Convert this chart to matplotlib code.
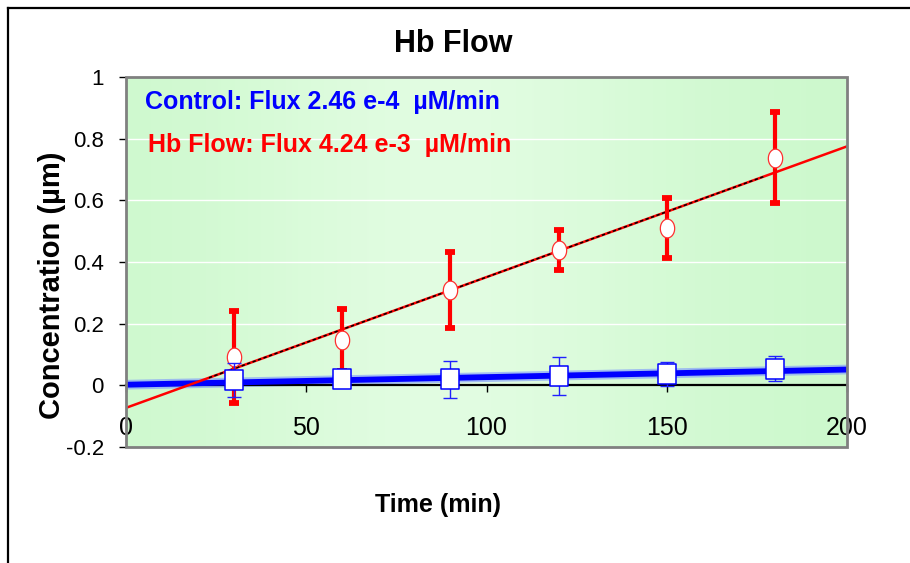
import numpy as np
import matplotlib
matplotlib.use("Agg")
import matplotlib.pyplot as plt
from matplotlib.path import Path
from matplotlib.patches import Rectangle
from matplotlib.lines import Line2D

# ---- data ----
time_min = [30, 60, 90, 120, 150, 180]
hb_conc = [0.092, 0.147, 0.309, 0.439, 0.510, 0.738]
hb_err = [0.150, 0.100, 0.123, 0.065, 0.097, 0.148]
ctrl_conc = [0.017, 0.020, 0.020, 0.030, 0.037, 0.054]
ctrl_err = [0.055, 0.010, 0.060, 0.062, 0.040, 0.040]

hb_slope, hb_intercept = 4.24e-3, -0.073
ctrl_slope, ctrl_intercept = 2.46e-4, 0.002

x_ticks = [0, 50, 100, 150, 200]
y_ticks = [-0.2, 0, 0.2, 0.4, 0.6, 0.8, 1]
y_ticklabels = ["-0.2", "0", "0.2", "0.4", "0.6", "0.8", "1"]

FONT = ["Liberation Sans", "DejaVu Sans"]
W, H = 910, 563


def fx(px):
    return px / W


def fy(py):
    return 1 - py / H


fig = plt.figure(figsize=(W / 100, H / 100), dpi=100)
ax = fig.add_axes([fx(126), fy(447), 721 / W, 370 / H])
ax.set_xlim(0, 200)
ax.set_ylim(-0.2, 1.0)

# green horizontal gradient background
t = np.linspace(0, 1, 400)
light = np.exp(-((t - 0.45) / 0.32) ** 2)
edge = np.array([0.80, 0.975, 0.80])
centre = np.array([0.885, 0.99, 0.885])
grad = edge[None, :] + (centre - edge)[None, :] * light[:, None]
ax.imshow(grad[None, :, :], extent=[0, 200, -0.2, 1.0], aspect="auto",
          zorder=0, interpolation="bilinear")

# white horizontal gridlines
for yv in [0.2, 0.4, 0.6, 0.8]:
    ax.axhline(yv, color="white", lw=1.0, zorder=1)

# grey plot-area frame
ax.add_patch(Rectangle((0, 0), 1, 1, transform=ax.transAxes, fill=False,
                       edgecolor="#808080", lw=2.0, zorder=6, clip_on=False))

for s in ["top", "right", "left"]:
    ax.spines[s].set_visible(False)
ax.spines["bottom"].set_position(("data", 0))
ax.spines["bottom"].set_color("black")
ax.spines["bottom"].set_linewidth(1.6)
ax.spines["bottom"].set_zorder(2)

ax.set_xticks(x_ticks)
ax.set_xticklabels([str(v) for v in x_ticks], fontfamily=FONT, fontsize=18)
ax.set_yticks(y_ticks)
ax.set_yticklabels(y_ticklabels, fontfamily=FONT, fontsize=16)
ax.tick_params(axis="x", direction="out", length=5, width=1, pad=17, colors="black")
ax.tick_params(axis="y", direction="out", length=5, width=1, pad=11, colors="black")

# fitted lines
xf = np.array([0, 200])
ax.plot(xf, ctrl_intercept + ctrl_slope * xf, color="#7b96ff", lw=7, alpha=0.6,
        zorder=2, solid_capstyle="butt")
ax.plot(xf, ctrl_intercept + ctrl_slope * xf, color="#0000ff", lw=4.2, zorder=2.1,
        solid_capstyle="butt")
ax.plot(xf, hb_intercept + hb_slope * xf, color="#ff0000", lw=1.8, zorder=2.5)
xd = np.array([23, 177])
ax.plot(xd, hb_intercept + hb_slope * xd, color="black", lw=1.1, zorder=2.6,
        dashes=(2.2, 1.6))

# marker shapes: tall ellipse and tall rectangle
th = np.linspace(0, 2 * np.pi, 60)
ellipse = Path(np.column_stack([13 * np.cos(th), 17 * np.sin(th)]), closed=True)
rect = Path([(-17, -19), (17, -19), (17, 19), (-17, 19), (-17, -19)], closed=True)

# Hb flow series
ax.errorbar(time_min, hb_conc, yerr=hb_err, fmt="none", ecolor="#ff0000",
            elinewidth=3.0, capsize=3.8, capthick=4.2, zorder=3)
ax.plot(time_min, hb_conc, linestyle="none", marker=ellipse, markersize=13.5,
        markerfacecolor="white", markeredgecolor="#ff3030", markeredgewidth=0.9,
        zorder=3.5)

# control series
ax.errorbar(time_min, ctrl_conc, yerr=ctrl_err, fmt="none", ecolor="#2020ff",
            elinewidth=1.0, capsize=4.8, capthick=1.0, zorder=4)
ax.plot(time_min, ctrl_conc, linestyle="none", marker=rect, markersize=14.5,
        markerfacecolor="white", markeredgecolor="#0000ff", markeredgewidth=1.1,
        zorder=4.5)

# flux annotations
fig.text(fx(145), fy(109), "Control: Flux 2.46 e-4  \u00b5M/min",
         color="#0000ff", fontsize=18, fontweight="bold", fontfamily=FONT,
         va="baseline", ha="left")
fig.text(fx(148), fy(152), "Hb Flow: Flux 4.24 e-3  \u00b5M/min",
         color="#ff0000", fontsize=18, fontweight="bold", fontfamily=FONT,
         va="baseline", ha="left")

# titles
fig.text(fx(453), fy(44), "Hb Flow", ha="center", va="center",
         fontsize=22, fontweight="bold", fontfamily=FONT)
fig.text(fx(438), fy(505), "Time (min)", ha="center", va="center",
         fontsize=18, fontweight="bold", fontfamily=FONT)
fig.text(fx(52), fy(285), "Concentration (\u00b5m)", ha="center", va="center",
         rotation=90, fontsize=21, fontweight="bold", fontfamily=FONT)

# outer frame (top and left edges)
fig.add_artist(Line2D([fx(8), 1.0], [fy(8), fy(8)],
                      transform=fig.transFigure, color="black", lw=1.6))
fig.add_artist(Line2D([fx(8), fx(8)], [0.0, fy(8)],
                      transform=fig.transFigure, color="black", lw=1.6))

fig.savefig("out.png", dpi=100, facecolor="white")
